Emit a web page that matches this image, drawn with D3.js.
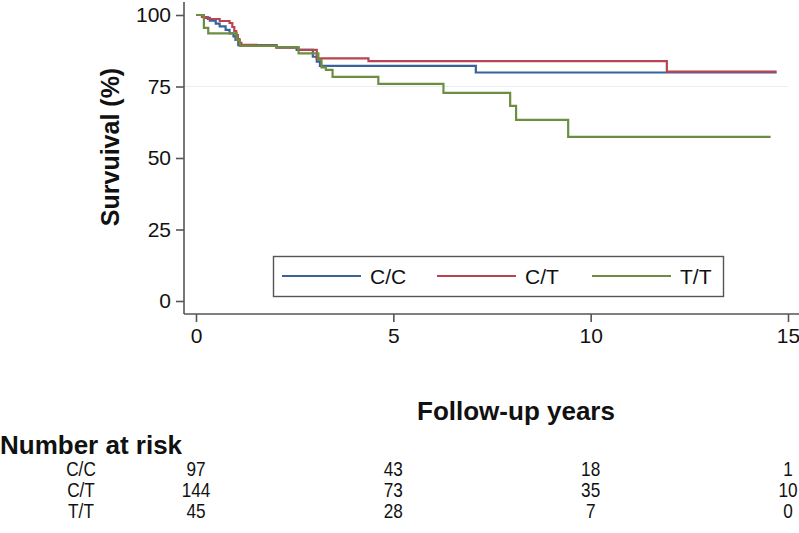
<!DOCTYPE html>
<html>
<head>
<meta charset="utf-8">
<script src="https://cdn.jsdelivr.net/npm/d3@7"></script>
<style>
  html, body { margin: 0; padding: 0; background: #fff; }
  svg { display: block; font-family: "Liberation Sans", Arial, sans-serif; }
</style>
</head>
<body>
<svg id="chart" width="799" height="533"></svg>
<script>
// ---- Data ----
const groups = ["C/C", "C/T", "T/T"];
const colors = ["#38629a", "#b8444f", "#6d8e41"];

// Kaplan-Meier step points: [years, survival %]
const survCC = [[0,100],[0.2,99],[0.35,98],[0.5,97],[0.6,96],[0.75,94.8],[0.85,93.6],[0.95,92.5],[1.0,91.3],[1.07,89.5],[2.04,88.7],[2.55,87.8],[2.96,85.4],[3.06,83.7],[3.14,82.2],[7.09,79.9],[14.71,79.9]];
const survCT = [[0,100],[0.15,99.3],[0.3,98.6],[0.6,97.9],[0.85,97.2],[0.92,95.8],[0.97,94.4],[1.02,93],[1.06,91.6],[1.1,90.3],[1.15,89.6],[1.54,89.3],[2.04,88.6],[2.6,87.8],[3.06,84.8],[4.37,83.9],[11.93,80.2],[14.71,80.2]];
const survTT = [[0,100],[0.2,95.5],[0.31,93.6],[1.03,91.3],[1.11,89.2],[2.04,88.7],[2.6,86.6],[3.1,84.3],[3.18,81.7],[3.29,80.8],[3.46,78.4],[4.62,75.9],[6.27,72.8],[7.96,68.2],[8.11,63.3],[9.43,57.4],[14.56,57.4]];
const series = [survCC, survCT, survTT];

const xTicks = [0, 5, 10, 15];
const yTicks = [0, 25, 50, 75, 100];
const gridValues = [75];

const riskTimes = [0, 5, 10, 15];
const riskCC = [97, 43, 18, 1];
const riskCT = [144, 73, 35, 10];
const riskTT = [45, 28, 7, 0];
const riskRows = [riskCC, riskCT, riskTT];

// ---- Layout ----
const svg = d3.select("#chart");
const x = d3.scaleLinear().domain([0, 15]).range([196, 788]);
const y = d3.scaleLinear().domain([0, 100]).range([301, 15]);
const axisX0 = 184, axisY0 = 314;
const axisColor = "#555";

// faint reference grid line
svg.append("g").selectAll("line").data(gridValues).join("line")
  .attr("x1", axisX0 + 1).attr("x2", 788)
  .attr("y1", d => y(d)).attr("y2", d => y(d))
  .attr("stroke", "#e6f0f3").attr("stroke-width", 1);

// Y axis
const yAxis = d3.axisLeft(y).tickValues(yTicks).tickSize(8).tickPadding(5).tickSizeOuter(0);
const gy = svg.append("g").attr("transform", `translate(${axisX0},0)`).call(yAxis);
gy.select(".domain").attr("d", `M0,2V${axisY0}`);
// X axis
const xAxis = d3.axisBottom(x).tickValues(xTicks).tickSize(8).tickPadding(6).tickSizeOuter(0);
const gx = svg.append("g").attr("transform", `translate(0,${axisY0})`).call(xAxis);
gx.select(".domain").attr("d", `M${axisX0},0H799`);

[gx, gy].forEach(g => {
  g.selectAll(".domain").attr("stroke", axisColor).attr("stroke-width", 1.6);
  g.selectAll(".tick line").attr("stroke", axisColor).attr("stroke-width", 1.6);
  g.selectAll(".tick text").attr("font-size", 21).attr("fill", "#111")
    .attr("font-family", "Liberation Sans, Arial, sans-serif");
});

// Curves
const line = d3.line().x(d => x(d[0])).y(d => y(d[1])).curve(d3.curveStepAfter);
svg.append("g").selectAll("path").data(series).join("path")
  .attr("d", d => line(d))
  .attr("fill", "none")
  .attr("stroke", (d, i) => colors[i])
  .attr("stroke-width", 2.2);

// Legend
const lg = svg.append("g");
lg.append("rect").attr("x", 273.5).attr("y", 256.5).attr("width", 450).attr("height", 40)
  .attr("fill", "#fff").attr("stroke", axisColor).attr("stroke-width", 1.4);
const legX = [282, 437, 592];
groups.forEach((g, i) => {
  lg.append("line").attr("x1", legX[i]).attr("x2", legX[i] + 79)
    .attr("y1", 276).attr("y2", 276).attr("stroke", colors[i]).attr("stroke-width", 2.2);
  lg.append("text").attr("x", legX[i] + 88).attr("y", 283.5)
    .attr("font-size", 21).attr("fill", "#111").text(g);
});

// Axis titles
svg.append("text")
  .attr("transform", "translate(119,147) rotate(-90)")
  .attr("text-anchor", "middle").attr("font-size", 25).attr("font-weight", "bold")
  .attr("fill", "#111").text("Survuival (%)");
svg.append("text").attr("x", 516).attr("y", 420)
  .attr("text-anchor", "middle").attr("font-size", 26).attr("font-weight", "bold")
  .attr("fill", "#111").text("Follow-up years");

// Number at risk
svg.append("text").attr("x", 0).attr("y", 454)
  .attr("font-size", 26).attr("font-weight", "bold").attr("fill", "#111").text("Number at risk");
const rowY = [476, 497, 518];
const condense = 0.86;
groups.forEach((g, i) => {
  svg.append("text")
    .attr("transform", `translate(81,${rowY[i]}) scale(${condense},1)`)
    .attr("text-anchor", "middle")
    .attr("font-size", 20).attr("fill", "#111").text(g);
  svg.append("g").selectAll("text").data(riskRows[i]).join("text")
    .attr("transform", (d, j) => `translate(${Math.min(x(riskTimes[j]), 788)},${rowY[i]}) scale(${condense},1)`)
    .attr("text-anchor", "middle")
    .attr("font-size", 20).attr("fill", "#111").text(d => d);
});
</script>
</body>
</html>
